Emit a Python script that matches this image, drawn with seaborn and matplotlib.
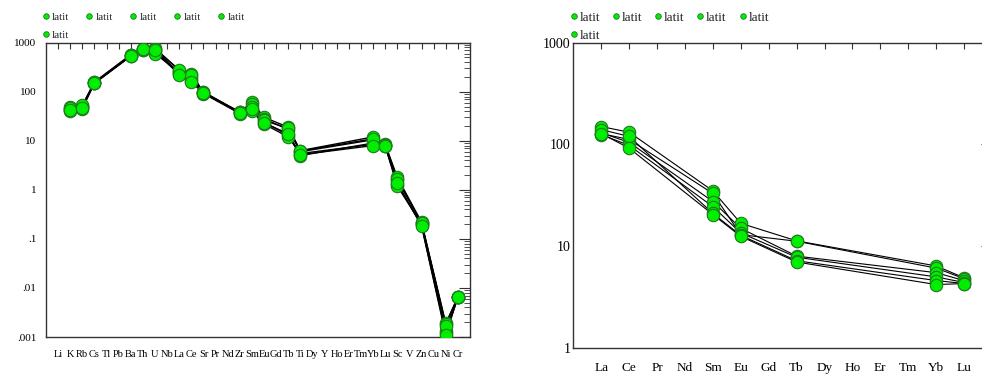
import numpy as np
import pandas as pd
import matplotlib
matplotlib.use("Agg")
import matplotlib.pyplot as plt
import matplotlib.ticker as mticker
from matplotlib.lines import Line2D
import seaborn as sns

# Datos (6 muestras "latit")
spider_labels = ["Li", "K", "Rb", "Cs", "Tl", "Pb", "Ba", "Th", "U", "Nb", "La", "Ce", "Sr",
                 "Pr", "Nd", "Zr", "Sm", "Eu", "Gd", "Tb", "Ti", "Dy", "Y", "Ho", "Er", "Tm",
                 "Yb", "Lu", "Sc", "V", "Zn", "Cu", "Ni", "Cr"]
spider_elements = ["K", "Rb", "Cs", "Ba", "Th", "U", "La", "Ce", "Sr", "Zr", "Sm", "Eu",
                   "Tb", "Ti", "Yb", "Lu", "Sc", "Zn", "Ni", "Cr"]
spider_s1 = [50, 52, 155, 560, 730, 770, 270, 230, 98, 38, 62, 30, 19, 6.3, 12, 8.5, 1.8, 0.22, 0.0019, 0.0065]
spider_s2 = [42, 48, 150, 540, 720, 720, 240, 200, 95, 37, 55, 28, 17, 6.0, 10.5, 8.2, 1.6, 0.21, 0.0018, 0.0065]
spider_s3 = [45, 45, 152, 550, 740, 650, 230, 165, 92, 36, 42, 24, 13, 5.0, 9, 8.0, 1.3, 0.19, 0.0012, 0.0065]
spider_s4 = [40, 50, 148, 530, 710, 600, 250, 180, 96, 39, 40, 22, 12, 5.5, 8.5, 7.8, 1.2, 0.20, 0.0013, 0.0064]
spider_s5 = [47, 53, 158, 570, 750, 760, 280, 220, 100, 38, 48, 26, 18, 6.2, 11, 8.3, 1.7, 0.215, 0.0017, 0.0066]
spider_s6 = [43, 47, 150, 545, 735, 700, 220, 160, 94, 37, 45, 23, 14, 5.2, 8, 7.9, 1.4, 0.185, 0.0011, 0.0064]

ree_labels = ["La", "Ce", "Pr", "Nd", "Sm", "Eu", "Gd", "Tb", "Dy", "Ho", "Er", "Tm", "Yb", "Lu"]
ree_elements = ["La", "Ce", "Sm", "Eu", "Tb", "Yb", "Lu"]
ree_s1 = [150, 132, 35, 16.8, 11.3, 6.4, 4.9]
ree_s2 = [128, 112, 33, 13.0, 11.2, 6.1, 4.8]
ree_s3 = [130, 105, 27.5, 15.0, 8.0, 5.5, 4.6]
ree_s4 = [125, 98, 24.5, 13.5, 7.8, 5.0, 4.4]
ree_s5 = [140, 120, 21, 12.8, 7.2, 4.6, 4.3]
ree_s6 = [128, 92, 20.5, 12.5, 7.0, 4.2, 4.3]

legend_labels = ["latit"] * 6

verde = "#00ee00"
borde = "#1f7a1f"


def tabla_larga(labels, elements, series):
    filas = []
    for i, vals in enumerate(series):
        for el, v in zip(elements, vals):
            filas.append({"muestra": i, "pos": labels.index(el), "valor": v})
    return pd.DataFrame(filas)


df_spider = tabla_larga(spider_labels, spider_elements,
                        [spider_s1, spider_s2, spider_s3, spider_s4, spider_s5, spider_s6])
df_ree = tabla_larga(ree_labels, ree_elements,
                     [ree_s1, ree_s2, ree_s3, ree_s4, ree_s5, ree_s6])

sns.set_style("white")
plt.rcParams["font.family"] = ["Liberation Serif", "DejaVu Serif"]

fig = plt.figure(figsize=(9.82, 3.74), dpi=100)
ax1 = fig.add_axes([0.0468, 0.0989, 0.4318, 0.7869])
ax2 = fig.add_axes([0.5838, 0.0695, 0.4264, 0.8163])


def dibujar(ax, df, labels, ms, lw):
    sns.lineplot(data=df, x="pos", y="valor", units="muestra", estimator=None, sort=False,
                 color="black", lw=lw, ax=ax, legend=False)
    sns.scatterplot(data=df, x="pos", y="valor", color=verde, edgecolor=borde, linewidth=0.8,
                    s=ms, ax=ax, legend=False, zorder=3)
    ax.set_yscale("log")
    ax.set_xlim(-1, len(labels))
    ax.set_xticks(range(len(labels)))
    ax.set_xticklabels(labels)
    ax.set_xlabel("")
    ax.set_ylabel("")
    ax.yaxis.set_minor_locator(mticker.LogLocator(base=10, subs=np.arange(2, 10), numticks=20))
    ax.yaxis.set_minor_formatter(mticker.NullFormatter())
    for sp in ax.spines.values():
        sp.set_color("#333333")
        sp.set_linewidth(1.0)
    ax.tick_params(which="both", direction="in", top=True, right=True, colors="#333333",
                   labelcolor="black")


# Panel izquierdo: diagrama multielemento
dibujar(ax1, df_spider, spider_labels, 80, 1.0)
ax1.set_ylim(0.001, 1000)
ax1.set_yticks([0.001, 0.01, 0.1, 1, 10, 100, 1000])
ax1.set_yticklabels([".001", ".01", ".1", "1", "10", "100", "1000"])
ax1.tick_params(axis="y", which="major", length=8, labelsize=8, pad=7)
ax1.tick_params(axis="y", which="minor", length=4)
ax1.tick_params(axis="x", which="major", length=4, labelsize=7.5, pad=9)

# Panel derecho: tierras raras
dibujar(ax2, df_ree, ree_labels, 80, 0.8)
ax2.set_ylim(1, 1000)
ax2.set_yticks([1, 10, 100, 1000])
ax2.set_yticklabels(["1", "10", "100", "1000"])
ax2.tick_params(axis="y", which="major", length=8, labelsize=10, pad=2)
ax2.tick_params(axis="y", which="minor", length=4)
ax2.tick_params(axis="x", which="major", length=4, labelsize=9.5, pad=10)


def leyenda(ax, x0, y0, fs, colsp, txtpad, labsp):
    handles = [Line2D([], [], marker="o", ls="none", markersize=4, markerfacecolor=verde,
                      markeredgecolor=borde, markeredgewidth=0.6) for _ in legend_labels]
    ax.legend(handles, legend_labels, ncol=5, loc="lower left",
              bbox_to_anchor=(x0, y0), bbox_transform=fig.transFigure,
              frameon=False, fontsize=fs, handlelength=0.6, handletextpad=txtpad,
              columnspacing=colsp, labelspacing=labsp, borderpad=0, borderaxespad=0)


leyenda(ax1, 0.043, 0.893, 8, 1.5, 0.3, 0.72)
leyenda(ax2, 0.580, 0.8877, 9.5, 0.9, 0.15, 0.45)

fig.savefig("out.png", dpi=100)
